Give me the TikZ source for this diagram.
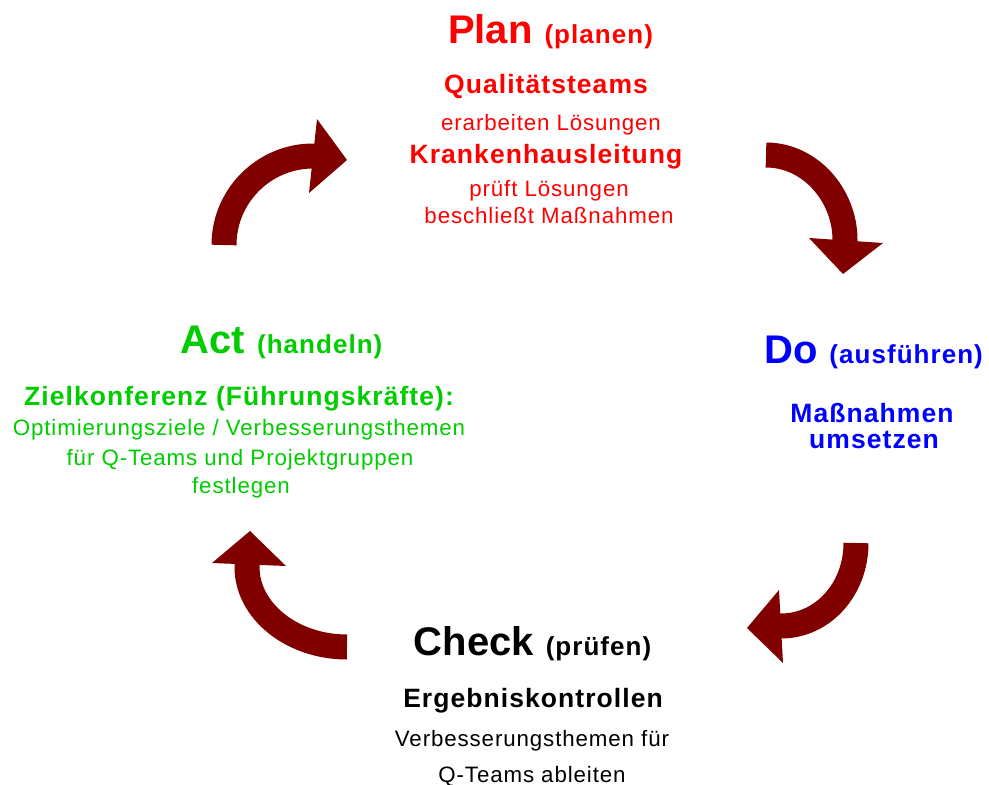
\documentclass[tikz,border=0pt]{standalone}
\usepackage{fontspec}
\setmainfont{Liberation Sans}
\newfontfamily\spacedfont[LetterSpace=4]{Liberation Sans}
\definecolor{pdcared}{RGB}{255,0,0}
\definecolor{pdcagreen}{RGB}{0,204,0}
\definecolor{pdcablue}{RGB}{0,0,255}
\definecolor{arrowred}{RGB}{128,0,0}
\newcommand\pdcaparen[1]{\hspace{12pt}{\spacedfont\fontsize{26}{31}\selectfont\bfseries #1}}
\tikzset{
  txt/.style={anchor=base, inner sep=0pt},
  headtxt/.style={txt, font=\fontsize{40}{48}\selectfont\bfseries},
  boldtxt/.style={txt, font=\spacedfont\fontsize{26.5}{32}\selectfont\bfseries},
  regtxt/.style={txt, font=\spacedfont\fontsize{22.3}{27}\selectfont},
  shaft/.style={draw=arrowred, line width=25pt, line cap=butt},
  arrowhead/.style={fill=arrowred, draw=none}
}
\begin{document}
\begin{tikzpicture}[x=1pt,y=-1pt]
\useasboundingbox (0,0) rectangle (989,785);

% Plan
\node[headtxt, text=pdcared] (planhead) at (550.5,43) {Plan\pdcaparen{(planen)}};
\node[boldtxt, text=pdcared] (plan1) at (546,93) {Qualitätsteams};
\node[regtxt, text=pdcared] (plan2) at (551,130) {erarbeiten Lösungen};
\node[boldtxt, text=pdcared] (plan3) at (546,163) {Krankenhausleitung};
\node[regtxt, text=pdcared] (plan4) at (549,196) {prüft Lösungen};
\node[regtxt, text=pdcared] (plan5) at (549,223) {beschließt Maßnahmen};

% Do
\node[headtxt, text=pdcablue] (dohead) at (873.5,363) {Do\pdcaparen{(ausführen)}};
\node[boldtxt, text=pdcablue] (do1) at (872,422) {Maßnahmen};
\node[boldtxt, text=pdcablue] (do2) at (874,448) {umsetzen};

% Check
\node[headtxt, text=black] (checkhead) at (532.5,655) {Check\pdcaparen{(prüfen)}};
\node[boldtxt, text=black] (check1) at (533,707) {Ergebniskontrollen};
\node[regtxt, text=black] (check2) at (532,746) {Verbesserungsthemen für};
\node[regtxt, text=black] (check3) at (532,782) {Q-Teams ableiten};

% Act
\node[headtxt, text=pdcagreen] (acthead) at (281.5,353) {Act\pdcaparen{(handeln)}};
\node[boldtxt, text=pdcagreen] (act1) at (239,405) {Zielkonferenz (Führungskräfte):};
\node[regtxt, text=pdcagreen] (act2) at (239,435) {Optimierungsziele / Verbesserungsthemen};
\node[regtxt, text=pdcagreen] (act3) at (240,465) {für Q-Teams und Projektgruppen};
\node[regtxt, text=pdcagreen] (act4) at (241,493) {festlegen};

% Arrow Act -> Plan (top left)
\draw[shaft] (224,245) .. controls (224,196) and (264,156) .. (313,156) -- (318,156);
\fill[arrowhead] (317,119) -- (347,160) -- (309,193) -- cycle;

% Arrow Plan -> Do (top right)
\draw[shaft] (766,155) .. controls (810,155) and (845,195) .. (845,240) -- (845,245);
\fill[arrowhead] (809,238) -- (883,243) -- (843,274) -- cycle;

% Arrow Do -> Check (bottom right)
\draw[shaft] (856,543) .. controls (856,589) and (823,626) .. (781,626) -- (777,626);
\fill[arrowhead] (779,590) -- (747,628) -- (783,663) -- cycle;

% Arrow Check -> Act (bottom left)
\draw[shaft] (347,647) .. controls (292,647) and (247,611) .. (247,567) -- (247,562);
\fill[arrowhead] (212,563) -- (250,531) -- (286,566) -- cycle;
\end{tikzpicture}
\end{document}
